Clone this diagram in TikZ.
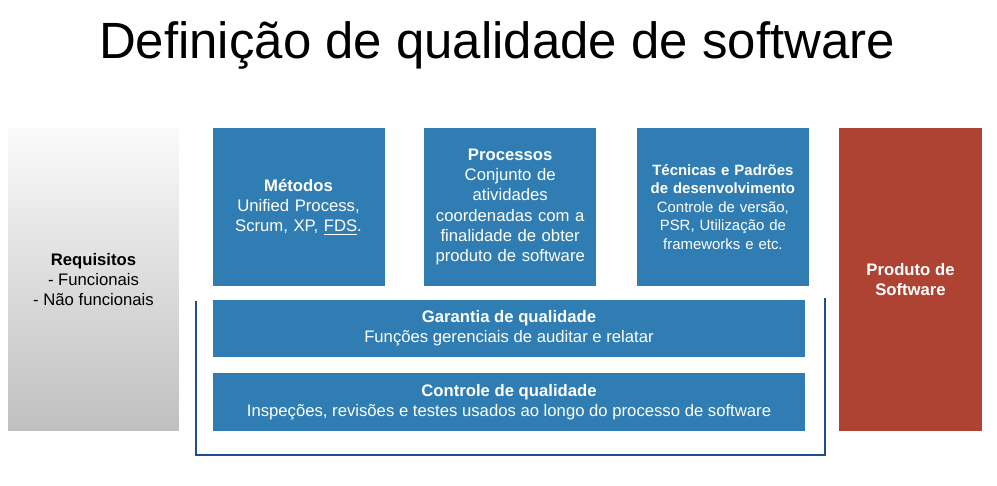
\documentclass[tikz,border=0pt]{standalone}
\usepackage{fontspec}
\setmainfont{Liberation Sans}
\usetikzlibrary{positioning}
\definecolor{boxblue}{HTML}{2F7DB3}
\definecolor{prodred}{HTML}{AE4333}
\definecolor{linkblue}{HTML}{1F4E8C}
\begin{document}
\begin{tikzpicture}
        [x=0.02cm, y=-0.02cm,
         every node/.style={font=\fontsize{9.5}{11.5}\selectfont, align=center, inner sep=2pt},
         bluebox/.style={fill=boxblue, text=white, minimum width=3.42cm, minimum height=3.16cm, text width=3.3cm},
         widebox/.style={fill=boxblue, text=white, minimum width=11.84cm, minimum height=1.16cm},
         sidebox/.style={minimum height=6.06cm}]

        \useasboundingbox (0,0) rectangle (997,486);
        \node (title) at (497,45) {\fontsize{29}{32}\selectfont Definição de qualidade de software};

        % bracket round the quality boxes
        \draw[linkblue, line width=1.2pt] (196,301) -- (196,455) -- (825,455) -- (825,298);

        \node[sidebox, minimum width=3.42cm, top color=white!96!gray, bottom color=black!25, drop shadow/.try] (req) at (93.5,279.5)
                {\textbf{Requisitos}\\- Funcionais\\- Não funcionais};
        \node[sidebox, minimum width=2.86cm, fill=prodred, text=white] (prod) at (910.5,279.5)
                {\textbf{Produto de}\\\textbf{Software}};

        \node[bluebox] (metodos) at (298.5,207) {\textbf{Métodos}\\Unified Process,\\Scrum, XP, \underline{FDS}.};
        \node[bluebox] (processos) [right=0.78cm of metodos] {\textbf{Processos}\\Conjunto de\\atividades\\coordenadas com a\\finalidade de obter\\produto de software};
        \node[bluebox, font=\fontsize{8.5}{10.5}\selectfont] (tecnicas) [right=0.8cm of processos] {\textbf{Técnicas e Padrões}\\\textbf{de desenvolvimento}\\Controle de versão,\\PSR, Utilização de\\frameworks e etc.};

        \node[widebox] (garantia) at (509,328.5) {\textbf{Garantia de qualidade}\\Funções gerenciais de auditar e relatar};
        \node[widebox] (controle) [below=0.3cm of garantia] {\textbf{Controle de qualidade}\\Inspeções, revisões e testes usados ao longo do processo de software};
\end{tikzpicture}
\end{document}
